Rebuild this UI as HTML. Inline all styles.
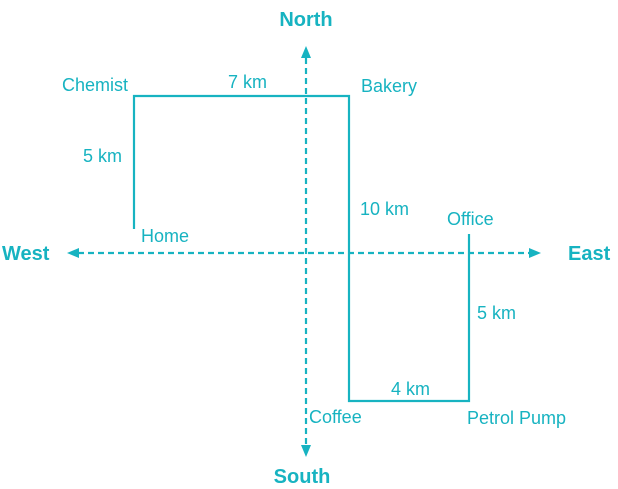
<!DOCTYPE html>
<html><head><style>
html,body{margin:0;padding:0;background:#fff;}
svg{display:block;}
text{font-family:"Liberation Sans",Arial,sans-serif;fill:#17b3c1;font-size:18px;}
.b{font-weight:bold;font-size:20px;}
</style></head><body>
<svg width="618" height="489" viewBox="0 0 618 489">
<g stroke="#17b3c1" stroke-width="2.2" fill="none">
<line x1="306" y1="58" x2="306" y2="445" stroke-dasharray="6,4"/>
<line x1="78" y1="253" x2="530" y2="253" stroke-dasharray="6,4"/>
<polyline points="134,229 134,96 349,96 349,401 469,401 469,234"/>
</g>
<g fill="#17b3c1">
<polygon points="306,46 301,58 311,58"/>
<polygon points="306,457 301,445 311,445"/>
<polygon points="67,253 79,248 79,258"/>
<polygon points="541,253 529,248 529,258"/>
</g>
<text class="b" x="306" y="26" text-anchor="middle">North</text>
<text class="b" x="302" y="483" text-anchor="middle">South</text>
<text class="b" x="2" y="260">West</text>
<text class="b" x="568" y="260">East</text>
<text x="62" y="91">Chemist</text>
<text x="228" y="88">7 km</text>
<text x="361" y="92">Bakery</text>
<text x="83" y="162">5 km</text>
<text x="141" y="242">Home</text>
<text x="360" y="215">10 km</text>
<text x="447" y="225">Office</text>
<text x="477" y="319">5 km</text>
<text x="391" y="395">4 km</text>
<text x="309" y="423">Coffee</text>
<text x="467" y="424">Petrol Pump</text>
</svg>
</body></html>
